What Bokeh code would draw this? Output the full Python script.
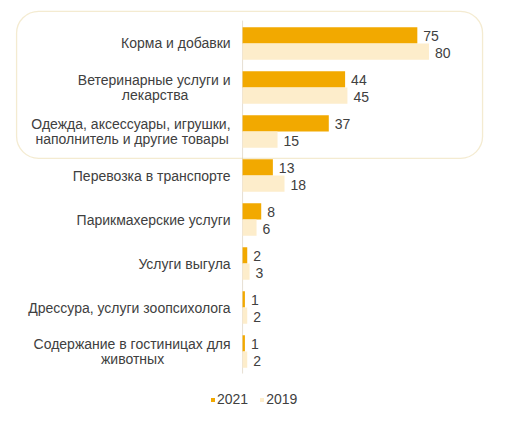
from bokeh.plotting import figure
from bokeh.models import Range1d, BoxAnnotation, Legend, LegendItem, ColumnDataSource
from bokeh.core.properties import value
from bokeh.embed import file_html
from bokeh.resources import INLINE

categories = [
    "Корма и добавки",
    "Ветеринарные услуги и\nлекарства",
    "Одежда, аксессуары, игрушки,\nнаполнитель и другие товары",
    "Перевозка в транспорте",
    "Парикмахерские услуги",
    "Услуги выгула",
    "Дрессура, услуги зоопсихолога",
    "Содержание в гостиницах для\nживотных",
]
values_2021 = [75, 44, 37, 13, 8, 2, 1, 1]
values_2019 = [80, 45, 15, 18, 6, 3, 2, 2]
series_names = ["2021", "2019"]

C2021 = "#F2A900"
C2019 = "#FDEDCB"
TEXT = "#404040"
FONT = "Liberation Sans"
FS = "14px"

# screen offset (px from the baseline) of the centre of the first line of
# each two-line label; the second line is centred beneath it
wrap_centres = {1: -87.5, 2: -110.5, 7: -110.0}

idx = list(range(len(categories)))
off = 0.185
bh = 0.37

src21 = ColumnDataSource(dict(y=[i - off for i in idx], v=values_2021,
                              t=[str(v) for v in values_2021]))
src19 = ColumnDataSource(dict(y=[i + off for i in idx], v=values_2019,
                              t=[str(v) for v in values_2019]))

p = figure(width=507, height=421, output_backend="svg", toolbar_location=None,
           x_range=Range1d(-103.9, 113.7), y_range=Range1d(8.59, -0.977),
           min_border=0, outline_line_color=None)
p.axis.visible = False
p.grid.visible = False
p.background_fill_color = "white"
p.border_fill_color = "white"

# rounded frame around the top three categories
p.add_layout(BoxAnnotation(left=-97.0, right=103.0, top=-0.73, bottom=2.61,
                           fill_alpha=0, line_color="#DCBD68", line_width=1.3,
                           border_radius=22))

# vertical baseline
p.segment(x0=[0], y0=[-0.52], x1=[0], y1=[7.5], line_color="#E6DFD2", line_width=1)

r21 = p.hbar(y="y", right="v", left=0, height=bh, source=src21,
             fill_color=C2021, line_color=None)
r19 = p.hbar(y="y", right="v", left=0, height=bh, source=src19,
             fill_color=C2019, line_color=None)

# value labels
for s in (src21, src19):
    p.text(x="v", y="y", text="t", source=s, x_offset=6, y_offset=1,
           text_align="left", text_baseline="middle",
           text_font=value(FONT), text_font_size=FS, text_color=TEXT)

# category labels
text_kw = dict(text_baseline="middle", text_font=value(FONT),
               text_font_size=FS, text_color=TEXT)
for i, cat in enumerate(categories):
    lines = cat.split("\n")
    if len(lines) == 1:
        p.text(x=[0], y=[i], text=[lines[0]], x_offset=-12,
               text_align="right", **text_kw)
    else:
        p.text(x=[0], y=[i - 0.18], text=[lines[0]], x_offset=-12,
               text_align="right", **text_kw)
        p.text(x=[0], y=[i + 0.18], text=[lines[1]], x_offset=wrap_centres[i],
               text_align="center", **text_kw)

legend = Legend(items=[LegendItem(label=series_names[0], renderers=[r21]),
                       LegendItem(label=series_names[1], renderers=[r19])],
                orientation="horizontal", location=(210, 14),
                glyph_width=5, glyph_height=5, label_standoff=2, spacing=11,
                padding=0, margin=0, border_line_color=None,
                background_fill_alpha=0,
                label_text_font=FONT, label_text_font_size=FS,
                label_text_color=TEXT)
p.add_layout(legend)

open("out.html", "w").write(file_html(p, INLINE))
